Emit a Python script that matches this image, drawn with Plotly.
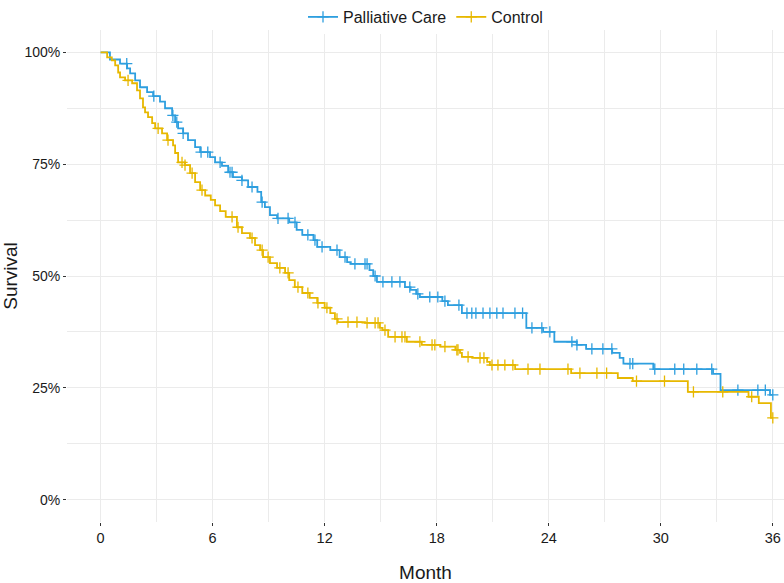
import numpy as np
import plotly.graph_objects as go

# Kaplan-Meier step points (month, survival after the drop)
pc_time = [0, 0.5, 1.04, 1.42, 1.58, 1.85, 2.11, 2.49, 2.81, 3.18, 3.45, 3.83, 3.99, 4.15, 4.42,
           4.68, 5.06, 5.33, 5.86, 6.13, 6.5, 6.83, 7.09, 7.57, 7.9, 8.4, 8.6, 8.8, 9.07, 9.45,
           10.1, 10.5, 10.8, 11.4, 11.6, 12.3, 12.8, 13.2, 13.4, 14.4, 14.6, 14.8, 16.3, 16.6,
           16.9, 17.1, 18.3, 18.6, 19.35, 22.8, 23.7, 24.3, 25.5, 26.0, 27.4, 27.8, 28.0, 29.6,
           32.8, 33.2, 35.85, 36.0]
pc_surv = [1.0, 0.984, 0.975, 0.964, 0.953, 0.9375, 0.922, 0.911, 0.902, 0.89, 0.875, 0.859,
           0.844, 0.83, 0.819, 0.804, 0.788, 0.777, 0.766, 0.754, 0.746, 0.732, 0.721, 0.714,
           0.699, 0.688, 0.665, 0.654, 0.636, 0.629, 0.62, 0.603, 0.592, 0.58, 0.565, 0.558,
           0.542, 0.531, 0.527, 0.513, 0.5, 0.487, 0.475, 0.469, 0.46, 0.453, 0.444, 0.435,
           0.417, 0.384, 0.375, 0.353, 0.346, 0.337, 0.328, 0.317, 0.304, 0.292, 0.281, 0.245,
           0.234, 0.234]
pc_censor = [1.4, 2.85, 3.87, 4.08, 4.42, 5.38, 5.74, 6.4, 6.93, 7.04, 7.57, 8.11, 8.65, 9.5,
             10.04, 10.41, 11.1, 11.48, 11.86, 12.66, 13.09, 13.62, 14.16, 14.27, 14.7, 15.12,
             15.6, 16.03, 16.56, 16.99, 17.63, 18.06, 18.44, 19.19, 19.62, 19.88, 20.1, 20.48,
             20.85, 21.22, 21.55, 22.19, 22.6, 23.1, 23.63, 24.06, 25.24, 25.51, 26.31, 26.9,
             27.38, 28.35, 28.5, 29.68, 30.75, 31.23, 31.93, 32.73, 34.13, 35.2, 35.6, 36.0]

ctl_time = [0, 0.35, 0.6, 0.78, 0.94, 1.04, 1.31, 1.69, 1.95, 2.11, 2.27, 2.38, 2.54, 2.76, 2.92,
            3.29, 3.56, 3.88, 3.99, 4.15, 4.52, 4.79, 5.06, 5.33, 5.6, 5.9, 6.13, 6.4, 6.7, 7.3,
            7.57, 8.0, 8.27, 8.54, 8.7, 9.07, 9.45, 9.88, 10.1, 10.4, 10.8, 11.2, 11.6, 12.0,
            12.3, 12.55, 12.7, 14.16, 14.96, 15.1, 15.4, 16.4, 17.2, 18.2, 19.0, 19.25, 19.35,
            19.9, 20.7, 20.85, 22.2, 25.2, 27.7, 28.5, 31.45, 34.7, 35.25, 35.9, 36.0]
ctl_surv = [1.0, 0.989, 0.982, 0.971, 0.955, 0.944, 0.9375, 0.931, 0.915, 0.897, 0.877, 0.866,
            0.855, 0.842, 0.83, 0.819, 0.804, 0.792, 0.775, 0.754, 0.748, 0.73, 0.71, 0.692,
            0.68, 0.67, 0.658, 0.645, 0.632, 0.609, 0.596, 0.585, 0.569, 0.558, 0.542, 0.529,
            0.518, 0.507, 0.491, 0.475, 0.462, 0.451, 0.44, 0.429, 0.417, 0.404, 0.397, 0.395,
            0.384, 0.379, 0.364, 0.353, 0.346, 0.342, 0.335, 0.328, 0.319, 0.317, 0.308, 0.301,
            0.292, 0.283, 0.272, 0.265, 0.241, 0.23, 0.216, 0.183, 0.183]
ctl_censor = [1.47, 3.08, 3.61, 4.36, 4.52, 4.9, 5.43, 7.04, 7.36, 8.11, 8.65, 8.97, 9.6, 10.04,
              10.57, 11.1, 11.64, 12.12, 12.66, 13.25, 13.73, 14.27, 14.7, 14.86, 15.23, 15.77,
              16.14, 16.3, 17.1, 17.75, 17.9, 18.44, 19.08, 19.14, 19.68, 20.32, 20.53, 20.96,
              21.28, 21.65, 22.08, 22.89, 23.53, 25.03, 25.67, 26.58, 27.1, 28.7, 30.2, 31.75,
              33.32, 34.87, 36.0]

groups = [
    ("Palliative Care", pc_time, pc_surv, pc_censor, "#2E9FDF"),
    ("Control", ctl_time, ctl_surv, ctl_censor, "#E7B800"),
]


def surv_at(times, surv, t):
    idx = np.searchsorted(np.array(times), t, side="right") - 1
    return [surv[i] for i in idx]


fig = go.Figure()
for name, t, s, cens, color in groups:
    fig.add_trace(go.Scatter(x=t, y=s, name=name, mode="lines", line_shape="hv",
                             line=dict(color=color, width=1.8),
                             legendgroup=name, showlegend=False))
    fig.add_trace(go.Scatter(x=cens, y=surv_at(t, s, cens), name=name, mode="markers",
                             marker=dict(symbol="cross-thin", size=8, color=color,
                                         line=dict(color=color, width=1.3)),
                             legendgroup=name, showlegend=False))
    # legend entry: line + cross
    fig.add_trace(go.Scatter(x=[None], y=[None], name=name, mode="lines+markers",
                             line=dict(color=color, width=1.8),
                             marker=dict(symbol="cross-thin", size=8,
                                         line=dict(color=color, width=1.3)),
                             legendgroup=name))

grid = "#EBEBEB"
fig.update_layout(
    width=784, height=583,
    paper_bgcolor="white", plot_bgcolor="white",
    margin=dict(l=67, r=0, t=30, b=61),
    font=dict(family="Liberation Sans, Arial, sans-serif", size=14, color="#1a1a1a"),
    legend=dict(orientation="h", x=0.5, xanchor="center", y=1.061, yanchor="top",
                font=dict(size=16, color="#1a1a1a"), itemwidth=30, tracegroupgap=0),
    xaxis=dict(range=[-1.8, 36.6], tickmode="array", tickvals=[0, 6, 12, 18, 24, 30, 36],
               ticks="outside", ticklen=3, tickcolor="#333333", tickwidth=1,
               showgrid=True, gridcolor=grid, gridwidth=1.3, zeroline=False, automargin=False,
               minor=dict(tickmode="array", tickvals=[3, 9, 15, 21, 27, 33], showgrid=True,
                          gridcolor=grid, gridwidth=1, ticks=""),
               title=dict(text="Month", font=dict(size=19), standoff=26),
               tickfont=dict(size=14.5, color="#1a1a1a")),
    yaxis=dict(range=[-0.05, 1.05], tickmode="array", tickvals=[0, 0.25, 0.5, 0.75, 1.0],
               ticktext=["0%", "25%", "50%", "75%", "100%"],
               ticks="outside", ticklen=3, tickcolor="#333333", tickwidth=1,
               showgrid=True, gridcolor=grid, gridwidth=1.3, zeroline=False, automargin=False,
               minor=dict(tickmode="array", tickvals=[0.125, 0.375, 0.625, 0.875],
                          showgrid=True, gridcolor=grid, gridwidth=1, ticks=""),
               title=dict(text="Survival", font=dict(size=19), standoff=2),
               tickfont=dict(size=14, color="#1a1a1a")),
)

# drop the default page margin so the 784x583 figure fills the window exactly
fig.write_html("out.html", config={"displayModeBar": False},
               post_script="document.body.style.margin = '0';")
